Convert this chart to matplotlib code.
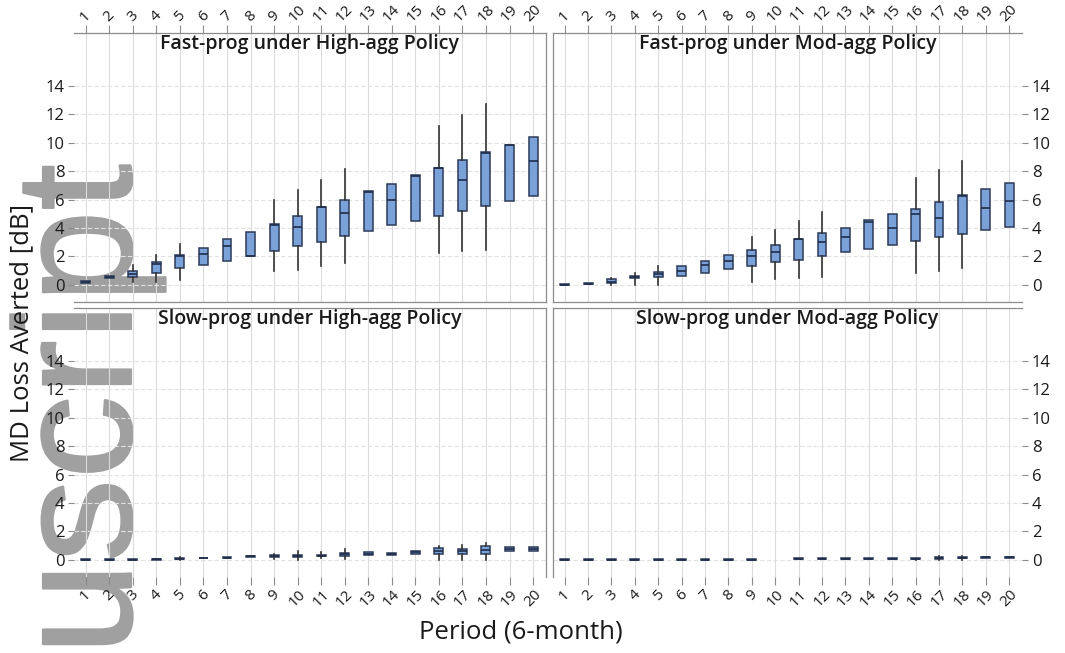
import numpy as np
import matplotlib
matplotlib.use("Agg")
import matplotlib.pyplot as plt
import matplotlib.patheffects as pe

periods = list(range(1, 21))

# Fast-prog under High-agg Policy (None = no whisker drawn)
fh_lo = [None, None, 0.23, 0.23, 0.35, None, None, None, 0.95, 1.05, 1.3, 1.55, None, None, None, 2.25, 2.35, 2.45, None, None]
fh_q1 = [0.15, 0.5, 0.58, 0.82, 1.17, 1.41, 1.69, 2.0, 2.35, 2.7, 3.05, 3.45, 3.82, 4.18, 4.46, 4.81, 5.16, 5.52, 5.92, 6.22]
fh_med = [0.2, 0.58, 0.8, 1.5, 2.0, 2.16, 2.7, 2.04, 4.2, 4.1, 5.45, 5.05, 6.55, 5.99, 7.63, 8.22, 7.39, 9.27, 9.8, 8.69]
fh_q3 = [0.25, 0.65, 1.0, 1.6, 2.07, 2.58, 3.2, 3.7, 4.3, 4.86, 5.45, 5.99, 6.6, 7.11, 7.7, 8.22, 8.76, 9.34, 9.86, 10.4]
fh_hi = [None, None, 1.4, 2.1, 2.9, None, None, None, 5.94, 6.64, 7.4, 8.17, None, None, None, 11.2, 11.97, 12.68, None, None]

# Fast-prog under Mod-agg Policy
fm_lo = [None, None, 0.0, 0.0, 0.0, None, None, None, 0.24, 0.4, 0.47, 0.54, None, None, None, 0.83, 1.01, 1.18, None, None]
fm_q1 = [0.0, 0.06, 0.12, 0.47, 0.54, 0.64, 0.87, 1.1, 1.3, 1.6, 1.77, 2.0, 2.31, 2.55, 2.83, 3.07, 3.37, 3.58, 3.89, 4.06]
fm_med = [0.02, 0.09, 0.24, 0.54, 0.78, 1.01, 1.37, 1.65, 2.0, 2.29, 3.23, 3.02, 3.35, 4.4, 4.0, 4.95, 4.72, 6.25, 5.42, 5.9]
fm_q3 = [0.05, 0.12, 0.4, 0.64, 0.94, 1.3, 1.65, 2.12, 2.43, 2.78, 3.23, 3.66, 4.0, 4.55, 4.95, 5.35, 5.85, 6.3, 6.72, 7.19]
fm_hi = [None, None, 0.47, 0.87, 1.3, None, None, None, 3.37, 3.89, 4.48, 5.12, None, None, None, 7.48, 8.09, 8.73, None, None]

# Slow-prog under High-agg Policy
sh_lo = [None, None, None, None, 0.0, None, None, None, 0.05, 0.0, 0.1, 0.05, None, None, None, 0.0, 0.0, 0.0, None, None]
sh_q1 = [0.0, 0.0, 0.0, 0.02, 0.05, 0.1, 0.12, 0.2, 0.2, 0.2, 0.25, 0.28, 0.35, 0.38, 0.45, 0.4, 0.45, 0.45, 0.6, 0.6]
sh_med = [0.0, 0.01, 0.01, 0.05, 0.08, 0.13, 0.15, 0.25, 0.25, 0.3, 0.3, 0.4, 0.43, 0.45, 0.55, 0.65, 0.6, 0.7, 0.75, 0.75]
sh_q3 = [0.03, 0.04, 0.04, 0.08, 0.12, 0.17, 0.2, 0.3, 0.32, 0.38, 0.36, 0.5, 0.55, 0.5, 0.65, 0.85, 0.75, 0.95, 0.9, 0.92]
sh_hi = [None, None, None, None, 0.2, None, None, None, 0.45, 0.6, 0.55, 0.75, None, None, None, 1.0, 1.05, 1.2, None, None]

# Slow-prog under Mod-agg Policy (period 10 not shown)
sm_lo = [None] * 15 + [0.0, 0.0, 0.0, None, None]
sm_q1 = [0.0] * 9 + [np.nan] + [0.05] * 6 + [0.08, 0.1, 0.12, 0.12]
sm_med = [0.01] * 9 + [np.nan] + [0.08] * 6 + [0.12, 0.15, 0.18, 0.18]
sm_q3 = [0.03] * 9 + [np.nan] + [0.1] * 5 + [0.12, 0.18, 0.2, 0.22, 0.22]
sm_hi = [None] * 15 + [0.15, 0.25, 0.3, None, None]

titles = ["Fast-prog under High-agg Policy", "Fast-prog under Mod-agg Policy",
          "Slow-prog under High-agg Policy", "Slow-prog under Mod-agg Policy"]
yticks = [0, 2, 4, 6, 8, 10, 12, 14]

panels = [(fh_lo, fh_q1, fh_med, fh_q3, fh_hi),
          (fm_lo, fm_q1, fm_med, fm_q3, fm_hi),
          (sh_lo, sh_q1, sh_med, sh_q3, sh_hi),
          (sm_lo, sm_q1, sm_med, sm_q3, sm_hi)]

plt.rcParams['font.family'] = ['Open Sans', 'DejaVu Sans']

W, H = 1065, 653
fig = plt.figure(figsize=(W / 100, H / 100), dpi=100)

def px_rect(x0, y0, x1, y1):
    return [x0 / W, 1 - y1 / H, (x1 - x0) / W, (y1 - y0) / H]

rects = [px_rect(74, 33, 546, 302), px_rect(553, 33, 1022, 302),
         px_rect(74, 308, 546, 577), px_rect(553, 308, 1022, 577)]

# watermark left over from the source document
wm_color = '#a0a0a0'
fig.text(131 / W, 1 - 655 / H, "uscript", rotation=90, rotation_mode='anchor',
         ha='left', va='baseline', fontsize=120, color=wm_color,
         family='Liberation Sans', zorder=-5,
         path_effects=[pe.withStroke(linewidth=1.5, foreground=wm_color)])

edge = '#8c8c8c'
for k, (rect, data, title) in enumerate(zip(rects, panels, titles)):
    ax = fig.add_axes(rect)
    ax.set_facecolor('none')
    lo, q1, med, q3, hi = data
    stats = []
    pos = []
    for i, p in enumerate(periods):
        if np.isnan(q1[i]):
            continue
        stats.append(dict(whislo=q1[i] if lo[i] is None else lo[i], q1=q1[i], med=med[i],
                          q3=q3[i], whishi=q3[i] if hi[i] is None else hi[i]))
        pos.append(p)
    ax.bxp(stats, positions=pos, widths=0.38, showfliers=False, showcaps=False,
           patch_artist=True,
           boxprops=dict(facecolor='#7ba2d8', edgecolor='#2b3a58', linewidth=1.1),
           medianprops=dict(color='#1f2d4a', linewidth=1.2),
           whiskerprops=dict(color='#333333', linewidth=1.2))

    ax.set_xlim(0.5, 20.55)
    ax.set_ylim(-1.2, 17.7)
    ax.set_xticks(periods)
    ax.set_xticklabels([str(p) for p in periods], rotation=45, fontsize=11)
    ax.set_yticks(yticks)
    ax.set_yticklabels([str(v) for v in yticks], fontsize=12)
    for v in periods:
        ax.axvline(v, color='#dcdcdc', lw=0.8, zorder=0)
    for v in yticks:
        ax.axhline(v, color='#e2e2e2', lw=0.8, ls=(0, (4, 2)), zorder=0)

    top_row = k < 2
    left_col = k % 2 == 0
    if top_row:
        ax.tick_params(axis='x', top=True, bottom=False, labeltop=True, labelbottom=False,
                       length=6, color=edge, pad=0)
    else:
        ax.tick_params(axis='x', top=False, bottom=True, length=6, color=edge, pad=1)
    if left_col:
        ax.tick_params(axis='y', left=True, right=False, labelleft=True, labelright=False,
                       length=4, color=edge, pad=3)
    else:
        ax.tick_params(axis='y', left=False, right=True, labelleft=False, labelright=True,
                       length=4, color=edge, pad=3)
    ax.tick_params(labelcolor='#1a1a1a')

    for s in ax.spines.values():
        s.set_color(edge)
        s.set_linewidth(0.9)
    ax.spines['left'].set_visible(not left_col)
    ax.spines['right'].set_visible(left_col)
    ax.spines['bottom'].set_visible(top_row)

    ax.text(0.5, 0.96, title, transform=ax.transAxes, ha='center', va='center',
            fontsize=14, fontweight='semibold', color='#1a1a1a')

fig.text(22 / W, 1 - 333 / H, "MD Loss Averted [dB]", rotation=90, ha='center', va='center',
         fontsize=18.5, color='#1a1a1a')
fig.text(521 / W, 1 - 632 / H, "Period (6-month)", ha='center', va='center',
         fontsize=18.5, color='#1a1a1a')

fig.savefig("out.png", dpi=100)
